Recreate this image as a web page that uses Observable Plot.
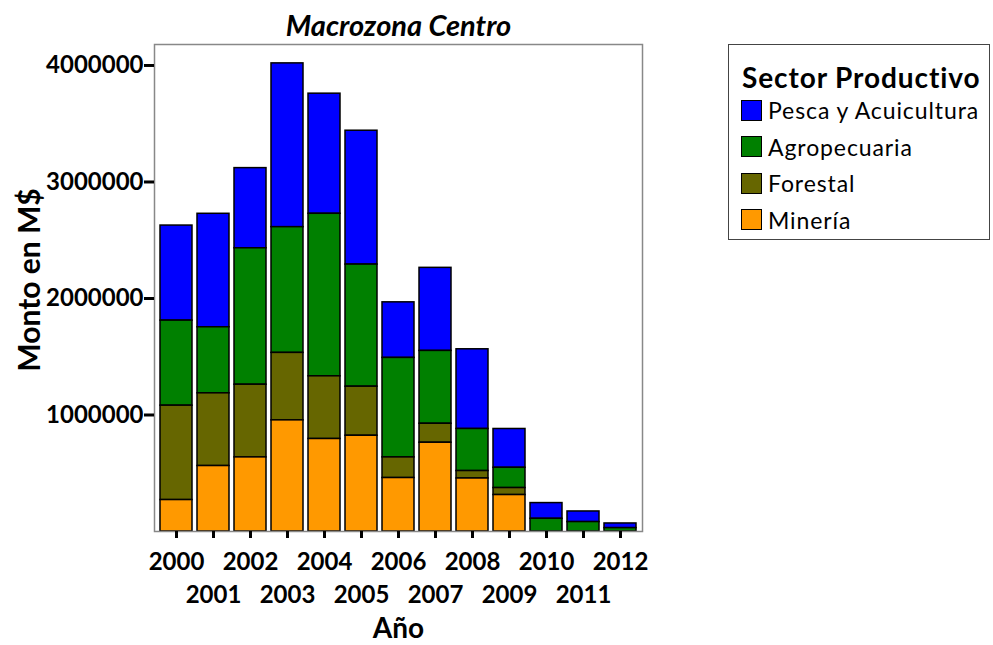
<!DOCTYPE html>
<html>
<head>
<meta charset="utf-8">
<script src="https://cdn.jsdelivr.net/npm/d3@7"></script>
<script src="https://cdn.jsdelivr.net/npm/@observablehq/plot@0.6"></script>
<style>
  body { margin: 0; background: #fff; }
  #wrap { position: relative; width: 993px; height: 645px; font-family: Lato, "Open Sans", sans-serif; }
  #legend { position: absolute; left: 728px; top: 44px; width: 260px; height: 194px; border: 1.5px solid #444; box-sizing: content-box; }
  #legend .ttl { position: absolute; left: 13px; top: 15px; font-weight: bold; font-size: 28px; letter-spacing: 0.9px; white-space: nowrap; }
  #legend .item { position: absolute; left: 12px; height: 24px; display: flex; align-items: center; font-size: 23px; letter-spacing: 0.9px; white-space: nowrap; }
  #legend .sw { width: 19px; height: 19px; border: 1.5px solid #000; margin-right: 6px; }
</style>
</head>
<body>
<div id="wrap"><div id="chart"></div><div id="legend"></div></div>
<script>
const years = [2000, 2001, 2002, 2003, 2004, 2005, 2006, 2007, 2008, 2009, 2010, 2011, 2012];
const pesca    = [816000, 974000, 688000, 1406000, 1031000, 1149000, 477000, 713000, 684000, 333000, 135000, 91000, 40000];
const agro     = [730000, 567000, 1171000, 1079000, 1395000, 1048000, 854000, 625000, 361000, 174000, 109000, 81000, 29000];
const forestal = [810000, 624000, 624000, 579000, 538000, 421000, 177000, 163000, 64000, 60000, 0, 0, 0];
const mineria  = [270000, 562000, 636000, 954000, 794000, 822000, 459000, 762000, 455000, 313000, 0, 0, 0];
const sectors = ["Pesca y Acuicultura", "Agropecuaria", "Forestal", "Minería"];
const colors = ["#0000FF", "#008000", "#666600", "#FF9900"];
const yTicks = [1000000, 2000000, 3000000, 4000000];
const evenYears = ["2000", "2002", "2004", "2006", "2008", "2010", "2012"];
const oddYears = ["2001", "2003", "2005", "2007", "2009", "2011"];

const series = [pesca, agro, forestal, mineria];
const data = years.flatMap((yr, i) => sectors.map((s, j) => ({year: String(yr), sector: s, value: series[j][i]})))
  .filter(d => d.value > 0);

const chart = Plot.plot({
  width: 993, height: 645,
  marginLeft: 154, marginRight: 351, marginTop: 44, marginBottom: 114,
  style: {fontFamily: "Lato, 'Open Sans', sans-serif", color: "#000", background: "#fff"},
  x: {type: "band", domain: years.map(String), paddingInner: 0.14, paddingOuter: 0.05},
  y: {domain: [0, 4180000]},
  color: {domain: sectors, range: colors},
  marks: [
    Plot.barY(data, {x: "year", y: "value", fill: "sector", order: [...sectors].reverse(), stroke: "#000", strokeWidth: 1.5}),
    Plot.frame({stroke: "#888", strokeWidth: 1.5}),
    Plot.axisY({ticks: yTicks, tickFormat: d => String(d), tickSize: 10, tickPadding: 1, strokeWidth: 3, fontSize: 24, fontWeight: "bold", label: null}),
    Plot.axisX({tickSize: 7, strokeWidth: 3, tickFormat: () => "", label: null}),
    Plot.axisX(evenYears, {tickSize: 0, tickPadding: 21, fontSize: 24, fontWeight: "bold", label: null}),
    Plot.axisX(oddYears, {tickSize: 0, tickPadding: 54, fontSize: 24, fontWeight: "bold", label: null}),
    Plot.text(["Macrozona Centro"], {frameAnchor: "top", lineAnchor: "middle", dy: -18, fontSize: 29, fontWeight: "bold", fontStyle: "italic"}),
    Plot.text(["Año"], {frameAnchor: "bottom", lineAnchor: "middle", dy: 98, fontSize: 28, fontWeight: "bold"}),
    Plot.text(["Monto en M$"], {frameAnchor: "left", textAnchor: "middle", lineAnchor: "middle", dx: -124, dy: -8, rotate: -90, fontSize: 30, fontWeight: "bold"})
  ]
});
document.getElementById("chart").appendChild(chart);

const legend = document.getElementById("legend");
const t = document.createElement("div");
t.className = "ttl"; t.textContent = "Sector Productivo";
legend.appendChild(t);
sectors.forEach((s, i) => {
  const it = document.createElement("div");
  it.className = "item";
  it.style.top = (53 + i * 36.5) + "px";
  const sw = document.createElement("div");
  sw.className = "sw"; sw.style.background = colors[i];
  const lb = document.createElement("span");
  lb.textContent = s;
  it.appendChild(sw); it.appendChild(lb);
  legend.appendChild(it);
});
</script>
</body>
</html>
